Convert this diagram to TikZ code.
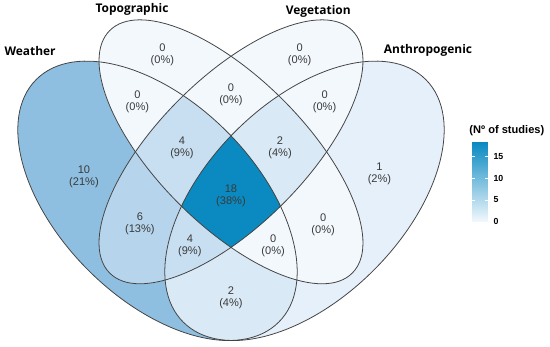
\documentclass[tikz,border=0pt]{standalone}
\usepackage{fontspec}
\setmainfont{Liberation Sans}
\newfontfamily\setfont{Open Sans}

\definecolor{c0}{HTML}{F3F8FD}
\definecolor{c1}{HTML}{E6F0FA}
\definecolor{c2}{HTML}{DAE9F6}
\definecolor{c4}{HTML}{C8DFF1}
\definecolor{c6}{HTML}{B6D5ED}
\definecolor{c10}{HTML}{8EBFE1}
\definecolor{c18}{HTML}{0A8AC1}
\definecolor{rim}{HTML}{444444}
\definecolor{numtext}{HTML}{3A3A3A}

\newcommand{\ellW}{(0.35,0.47) ellipse [x radius=0.35, y radius=0.2, rotate=135]}
\newcommand{\ellT}{(0.5,0.57) ellipse [x radius=0.35, y radius=0.15, rotate=135]}
\newcommand{\ellV}{(0.5,0.57) ellipse [x radius=0.35, y radius=0.15, rotate=45]}
\newcommand{\ellA}{(0.65,0.47) ellipse [x radius=0.35, y radius=0.2, rotate=45]}

\tikzset{
  rimline/.style={draw=rim,line width=0.45pt},
  setlab/.style={font=\setfont\fontsize{6.8}{7}\selectfont\bfseries},
  cnt/.style={align=center,text=numtext,inner sep=0pt,font=\fontsize{6.3}{6.8}\selectfont},
  ticklab/.style={anchor=west,inner sep=0pt,font=\fontsize{5}{5}\selectfont\bfseries}
}

\begin{document}
\begin{tikzpicture}[x=9.8cm,y=9.8cm]
  \useasboundingbox (0.0286,0.1717) rectangle (1.151,0.8798);

  % one set
  \fill[c10] \ellW; \fill[c0] \ellT; \fill[c0] \ellV; \fill[c1] \ellA;
  % two sets
  \begin{scope}\clip \ellW; \fill[c0] \ellT;\end{scope}
  \begin{scope}\clip \ellW; \fill[c6] \ellV;\end{scope}
  \begin{scope}\clip \ellW; \fill[c2] \ellA;\end{scope}
  \begin{scope}\clip \ellT; \fill[c0] \ellV;\end{scope}
  \begin{scope}\clip \ellT; \fill[c0] \ellA;\end{scope}
  \begin{scope}\clip \ellV; \fill[c0] \ellA;\end{scope}
  % three sets
  \begin{scope}\clip \ellW; \clip \ellT; \fill[c4] \ellV;\end{scope}
  \begin{scope}\clip \ellW; \clip \ellT; \fill[c0] \ellA;\end{scope}
  \begin{scope}\clip \ellW; \clip \ellV; \fill[c4] \ellA;\end{scope}
  \begin{scope}\clip \ellT; \clip \ellV; \fill[c2] \ellA;\end{scope}
  % all four
  \begin{scope}\clip \ellW; \clip \ellT; \clip \ellV; \fill[c18] \ellA;\end{scope}

  \draw[rimline] \ellW; \draw[rimline] \ellT; \draw[rimline] \ellV; \draw[rimline] \ellA;

  \node[setlab] (weather) at (0.090,0.776) {Weather};
  \node[setlab] (topo) at (0.298,0.861) {Topographic};
  \node[setlab] (veget) at (0.678,0.857) {Vegetation};
  \node[setlab] (anthro) at (0.902,0.776) {Anthropogenic};

  \node[cnt] (nW) at (0.200,0.520) {10\\(21\%)};
  \node[cnt] (nT) at (0.360,0.768) {0\\(0\%)};
  \node[cnt] (nV) at (0.640,0.768) {0\\(0\%)};
  \node[cnt] (nA) at (0.803,0.526) {1\\(2\%)};
  \node[cnt] (nWT) at (0.309,0.673) {0\\(0\%)};
  \node[cnt] (nTV) at (0.500,0.686) {0\\(0\%)};
  \node[cnt] (nVA) at (0.691,0.673) {0\\(0\%)};
  \node[cnt] (nWV) at (0.314,0.424) {6\\(13\%)};
  \node[cnt] (nTA) at (0.688,0.421) {0\\(0\%)};
  \node[cnt] (nWA) at (0.500,0.272) {2\\(4\%)};
  \node[cnt] (nWTV) at (0.400,0.578) {4\\(9\%)};
  \node[cnt] (nTVA) at (0.600,0.578) {2\\(4\%)};
  \node[cnt] (nWVA) at (0.416,0.378) {4\\(9\%)};
  \node[cnt] (nWTA) at (0.586,0.378) {0\\(0\%)};
  \node[cnt] (nAll) at (0.500,0.480) {18\\(38\%)};

  % legend
  \node[font=\fontsize{6.3}{6.5}\selectfont\bfseries,inner sep=0pt] (legtitle) at (1.063,0.614) {(Nº of studies)};
  \coordinate (barlo) at (0.992,0.427);
  \coordinate (barhi) at (1.024,0.588);
  \shade[bottom color=c0,middle color=c10!85!c6,top color=c18] (barlo) rectangle (barhi);
  \node[ticklab] (t0) at (1.035,0.427) {0};
  \node[ticklab] (t5) at (1.035,0.4717) {5};
  \node[ticklab] (t10) at (1.035,0.5164) {10};
  \node[ticklab] (t15) at (1.035,0.5612) {15};
  \draw[white,line width=0.5pt] (0.992,0.4717) -- ++(0.006,0) (1.024,0.4717) -- ++(-0.006,0)
    (0.992,0.5164) -- ++(0.006,0) (1.024,0.5164) -- ++(-0.006,0)
    (0.992,0.5612) -- ++(0.006,0) (1.024,0.5612) -- ++(-0.006,0);
\end{tikzpicture}
\end{document}
